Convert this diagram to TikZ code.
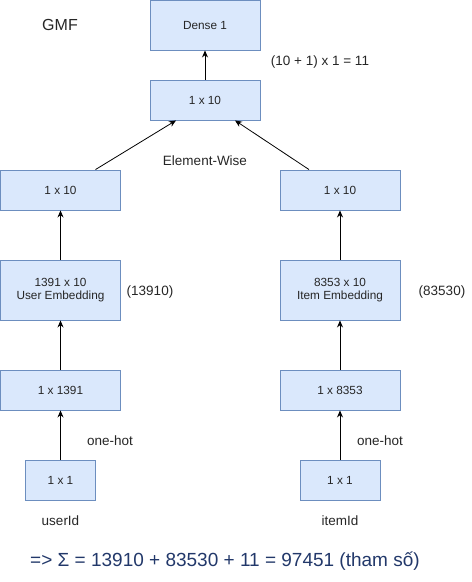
\documentclass[tikz,border=0pt]{standalone}
\usepackage{fontspec}
\setmainfont{Liberation Sans}
\usetikzlibrary{arrows.meta}
\definecolor{boxfill}{HTML}{DAE8FC}
\definecolor{boxline}{HTML}{6C8EBF}
\definecolor{formula}{HTML}{22386A}
\begin{document}
\begin{tikzpicture}[x=1pt,y=-1pt,
  box/.style={draw=boxline,fill=boxfill,line width=0.9pt,inner sep=0pt,align=center,font=\fontsize{11.8}{13.5}\selectfont,text=black!85},
  lbl/.style={font=\fontsize{13.5}{16}\selectfont,text=black!85},
  conn/.style={-{Stealth[length=7pt,width=6pt]},line width=0.8pt}]
\useasboundingbox (0,0) rectangle (472,582);
\node[box,minimum width=110pt,minimum height=50pt] (dense) at (205,25) {Dense 1};
\node[box,minimum width=110pt,minimum height=40pt] (mid) at (205,100) {1 x 10};
\node[box,minimum width=120pt,minimum height=40pt] (lv) at (60.5,190) {1 x 10};
\node[box,minimum width=120pt,minimum height=40pt] (rv) at (340,190) {1 x 10};
\node[box,minimum width=120pt,minimum height=60pt] (ue) at (60.5,290) {1391 x 10\\User Embedding};
\node[box,minimum width=120pt,minimum height=60pt] (ie) at (340,290) {8353 x 10\\Item Embedding};
\node[box,minimum width=120pt,minimum height=40pt] (uo) at (60.5,390) {1 x 1391};
\node[box,minimum width=120pt,minimum height=40pt] (io) at (340,390) {1 x 8353};
\node[box,minimum width=70pt,minimum height=40pt] (u1) at (60.5,480) {1 x 1};
\node[box,minimum width=80pt,minimum height=40pt] (i1) at (340,480) {1 x 1};

\node[font=\fontsize{16}{19}\selectfont,text=black!85] (gmf) at (60,25) {GMF};
\node[lbl] (par) at (320,62) {(10 + 1) x 1 = 11};
\node[lbl] (ew) at (205,161) {Element-Wise};
\node[lbl] (pu) at (150,292) {(13910)};
\node[lbl] (pi) at (442,292) {(83530)};
\node[lbl] (ohu) at (110,441) {one-hot};
\node[lbl] (ohi) at (380,441) {one-hot};
\node[lbl] (uid) at (60.5,521) {userId};
\node[lbl] (iid) at (340,521) {itemId};
\node[font=\fontsize{19}{22}\selectfont,text=formula] (sum) at (225,561) {=> Σ = 13910 + 83530 + 11 = 97451 (tham số)};

\draw[conn] (mid.north) -- (dense.south);
\draw[conn] ([xshift=35pt]lv.north) -- ([xshift=-29pt]mid.south);
\draw[conn] ([xshift=-31pt]rv.north) -- ([xshift=30pt]mid.south);
\draw[conn] (ue.north) -- (lv.south);
\draw[conn] (ie.north) -- (rv.south);
\draw[conn] (uo.north) -- (ue.south);
\draw[conn] (io.north) -- (ie.south);
\draw[conn] (u1.north) -- (uo.south);
\draw[conn] (i1.north) -- (io.south);
\end{tikzpicture}
\end{document}
